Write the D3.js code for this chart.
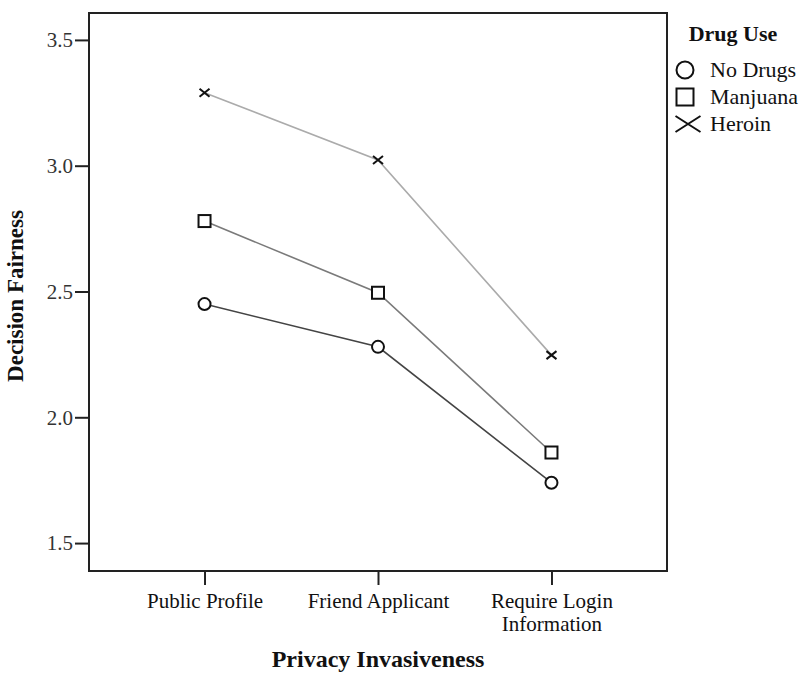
<!DOCTYPE html>
<html>
<head>
<meta charset="utf-8">
<script src="https://cdn.jsdelivr.net/npm/d3@7"></script>
<style>
  body { margin: 0; background: #fff; }
  text { font-family: "Liberation Serif", "Times New Roman", serif; fill: #111; }
  .axis text { font-size: 21px; }
  .axis path, .axis line { stroke: #222; stroke-width: 2; }
  .title { font-weight: bold; }
</style>
</head>
<body>
<div class="svg-container"></div>
<script>
// chart values
let categories = ['Public Profile', 'Friend Applicant', 'Require Login Information']
let seriesNames = ['No Drugs', 'Manjuana', 'Heroin']
let noDrugs = [2.45, 2.28, 1.74]
let marijuana = [2.78, 2.495, 1.86]
let heroin = [3.29, 3.023, 2.247]
let yTicks = [1.5, 2.0, 2.5, 3.0, 3.5]

let width = 801
let height = 673
let plotLeft = 89, plotRight = 667, plotTop = 13, plotBottom = 571

let svg = d3.select('.svg-container')
  .append('svg')
  .attr('width', width)
  .attr('height', height)

let xScale = d3.scalePoint()
  .domain(categories)
  .range([plotLeft, plotRight])
  .padding(0.666)

let yScale = d3.scaleLinear()
  .domain([1.389, 3.607])
  .range([plotBottom, plotTop])

// frame
svg.append('rect')
  .attr('x', plotLeft)
  .attr('y', plotTop)
  .attr('width', plotRight - plotLeft)
  .attr('height', plotBottom - plotTop)
  .attr('fill', 'none')
  .attr('stroke', '#222')
  .attr('stroke-width', 2)

let yAxis = d3.axisLeft(yScale)
  .tickValues(yTicks)
  .tickFormat(d3.format('.1f'))
  .tickSize(14)
  .tickPadding(2)

svg.append('g')
  .attr('class', 'axis')
  .attr('transform', `translate(${plotLeft}, 0)`)
  .call(yAxis)
  .call(g => g.select('.domain').remove())
  .selectAll('text').style('fill', '#333')

let xAxis = d3.axisBottom(xScale)
  .tickSize(14)
  .tickPadding(8)

let xg = svg.append('g')
  .attr('class', 'axis')
  .attr('transform', `translate(0, ${plotBottom})`)
  .call(xAxis)
  .call(g => g.select('.domain').remove())

// wrap the long label onto two lines
xg.selectAll('.tick text').each(function (d) {
  let t = d3.select(this)
  if (d === 'Require Login Information') {
    t.text(null)
    t.append('tspan').attr('x', 0).attr('dy', '0.71em').text('Require Login')
    t.append('tspan').attr('x', 0).attr('dy', '1.1em').text('Information')
  }
})

let series = [
  { name: seriesNames[0], values: noDrugs, color: '#444', shape: 'circle' },
  { name: seriesNames[1], values: marijuana, color: '#7a7a7a', shape: 'square' },
  { name: seriesNames[2], values: heroin, color: '#ababab', shape: 'cross' }
]

let line = d3.line()
  .x((d, i) => xScale(categories[i]))
  .y(d => yScale(d))

series.forEach(s => {
  svg.append('path')
    .datum(s.values)
    .attr('d', line)
    .attr('fill', 'none')
    .attr('stroke', s.color)
    .attr('stroke-width', 1.6)
})

function drawMarker (g, shape, x, y, w, h) {
  if (shape === 'circle') {
    g.append('circle')
      .attr('cx', x).attr('cy', y).attr('r', w / 2)
      .attr('fill', '#fff').attr('stroke', '#111').attr('stroke-width', 2)
  } else if (shape === 'square') {
    g.append('rect')
      .attr('x', x - w / 2).attr('y', y - w / 2)
      .attr('width', w).attr('height', w)
      .attr('fill', '#fff').attr('stroke', '#111').attr('stroke-width', 2)
  } else {
    let a = w / 2, b = h / 2
    g.append('path')
      .attr('d', `M${x - a},${y - b}L${x + a},${y + b}M${x - a},${y + b}L${x + a},${y - b}`)
      .attr('stroke', '#111').attr('stroke-width', 2).attr('fill', 'none')
  }
}

let markers = svg.append('g')
series.forEach(s => {
  s.values.forEach((v, i) => {
    if (s.shape === 'cross') drawMarker(markers, s.shape, xScale(categories[i]), yScale(v), 10, 8)
    else drawMarker(markers, s.shape, xScale(categories[i]), yScale(v), 12)
  })
})

// axis titles
svg.append('text')
  .attr('class', 'title')
  .attr('x', (plotLeft + plotRight) / 2)
  .attr('y', 667)
  .style('font-size', '24px')
  .style('text-anchor', 'middle')
  .text('Privacy Invasiveness')

svg.append('text')
  .attr('class', 'title')
  .attr('transform', `translate(23, 296) rotate(-90)`)
  .style('font-size', '23px')
  .style('text-anchor', 'middle')
  .text('Decision Fairness')

// legend
let legend = svg.append('g')
legend.append('text')
  .attr('class', 'title')
  .attr('x', 733)
  .attr('y', 41)
  .style('font-size', '22px')
  .style('text-anchor', 'middle')
  .text('Drug Use')

series.forEach((s, i) => {
  let y = 70 + i * 27
  if (s.shape === 'cross') drawMarker(legend, s.shape, 688, y, 25, 16)
  else drawMarker(legend, s.shape, 685, y, 17)
  legend.append('text')
    .attr('x', 710)
    .attr('y', y + 7)
    .style('font-size', '22px')
    .text(s.name)
})
</script>
</body>
</html>
